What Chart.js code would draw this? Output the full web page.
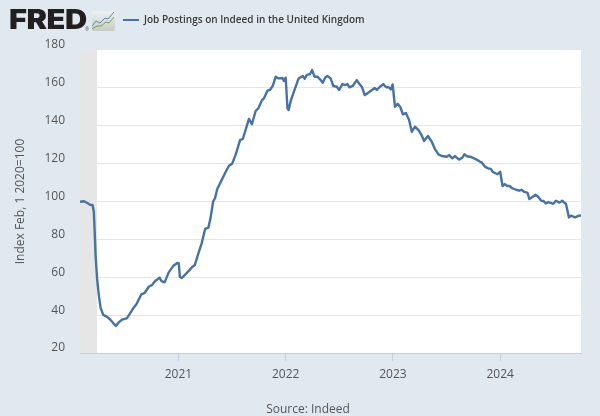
<!DOCTYPE html>
<html><head><meta charset="utf-8">
<script src="https://cdn.jsdelivr.net/npm/chart.js@4/dist/chart.umd.min.js"></script>
<style>
html,body{margin:0;padding:0;background:#e1e9f0;width:600px;height:416px;overflow:hidden}
#wrap{position:relative;width:600px;height:416px}
#logo{position:absolute;left:9px;top:3px;font:900 27px/34px Inter,"Liberation Sans",sans-serif;color:#231f20;letter-spacing:-.4px;transform:scaleX(1.14);transform-origin:left center}
#reg{position:absolute;left:85px;top:26px;font:5px/6px "Open Sans",sans-serif;color:#555}
#icon{position:absolute;left:92px;top:11px}
#source{position:absolute;left:208px;width:200px;top:401px;text-align:center;font:12px/16px "Open Sans",sans-serif;color:#555}
</style></head><body>
<div id="wrap">
<canvas id="c" width="600" height="416"></canvas>
<div id="logo">FRED</div><div id="reg">®</div>
<svg id="icon" width="23" height="20" viewBox="0 0 23 20"><defs><linearGradient id="g" x1="0" y1="0" x2="0" y2="1"><stop offset="0" stop-color="#eef1f1"/><stop offset="1" stop-color="#c6cbc6"/></linearGradient></defs><rect width="23" height="20" rx="2" fill="url(#g)"/><polyline points="0,15 4,10 8,12 13,7 16,8 22,1" fill="none" stroke="#5b87ad" stroke-width="1"/><polyline points="0,18 5,15 9,15 14,11 17,12 22,6" fill="none" stroke="#7ba24a" stroke-width="1"/></svg>
<div id="source">Source: Indeed</div>
</div>
<script>
// Days since 1 Feb 2020
const days = [0,14,25,34,43,47,50,53,58,64,70,79,91,102,113,122,132,143,159,170,181,192,209,220,234,245,256,271,277,288,302,317,331,336,340,346,357,371,382,391,401,414,426,437,444,453,460,467,482,496,507,518,530,545,554,575,585,598,607,619,626,638,647,656,666,675,689,694,700,706,710,718,728,744,758,765,772,783,790,798,808,817,826,835,842,853,862,874,882,893,903,910,917,928,942,951,960,969,978,990,1003,1010,1021,1032,1042,1051,1058,1064,1072,1081,1090,1099,1109,1120,1129,1140,1152,1161,1171,1184,1197,1208,1220,1231,1248,1256,1267,1276,1290,1301,1308,1317,1331,1350,1362,1368,1378,1389,1398,1405,1414,1421,1430,1438,1446,1453,1462,1471,1484,1495,1502,1511,1523,1529,1541,1550,1559,1570,1577,1585,1594,1611,1620,1632,1641,1654,1664,1671,1685,1698,1705];
const postings = [99.9,100.1,99.2,98.3,98.0,94.6,84.0,71.7,59.6,50.6,43.8,40.1,39.2,37.8,35.8,34.3,36.2,37.6,38.3,40.8,43.6,45.7,51.0,51.7,55.0,55.9,58.0,59.8,58.0,57.3,62.6,65.9,67.5,67.4,60.1,59.6,61.2,63.5,65.4,66.5,71.7,77.9,85.5,86.2,91.1,99.9,102.0,106.6,111.3,115.7,118.9,120.0,124.9,132.5,133.0,143.6,140.8,147.9,149.2,153.4,154.5,158.5,159.0,161.1,165.9,165.0,165.2,163.6,165.4,149.2,148.3,153.6,158.0,165.0,166.3,164.8,166.9,167.3,169.4,165.9,165.9,164.5,162.7,165.6,166.3,165.0,161.0,160.6,158.9,162.0,161.5,162.0,160.3,161.0,164.1,162.0,160.3,156.2,157.1,158.5,159.9,158.9,160.6,162.0,160.3,160.3,159.2,161.8,150.0,151.6,149.9,146.0,146.7,143.0,136.8,139.5,137.7,135.5,131.9,134.6,131.6,127.7,124.9,124.0,123.6,124.5,122.8,124.0,122.1,123.1,124.9,123.9,123.5,122.1,121.0,120.5,118.4,117.5,117.2,115.6,114.9,114.4,115.7,108.2,109.2,108.2,108.2,107.0,106.2,105.7,106.2,105.2,104.6,101.3,102.5,103.6,102.5,100.4,100.3,99.0,99.7,98.8,100.4,99.4,100.4,98.7,91.6,92.5,91.6,92.5,92.6];
const recessionDays = [0,58];
const recessionTop = [180,180];
const tickDays = [335,700,1065,1430];
const tickYears = ['2021','2022','2023','2024'];
const seriesName = 'Job Postings on Indeed in the United Kingdom';
const yTitle = 'Index Feb, 1 2020=100';

const textColor = '#555';
const font = {family:'"Open Sans"',size:12};

const chartBg = {
  id:'chartBg',
  beforeDraw(chart){
    const {ctx,chartArea:a}=chart;
    ctx.save();ctx.fillStyle='#fff';ctx.fillRect(a.left,a.top,a.right-a.left,a.bottom-a.top);ctx.restore();
  }
};
const placeLegend = {
  id:'placeLegend',
  afterLayout(chart){
    const l=chart.legend;
    l.left=113;l.right=400;l.width=287;l.top=5;l.bottom=37;l.height=32;
  }
};

new Chart(document.getElementById('c'),{
  type:'line',
  data:{datasets:[
    {label:seriesName,data:days.map((d,i)=>({x:d,y:postings[i]})),borderColor:'#4572a7',backgroundColor:'#4572a7',borderWidth:2.4,pointRadius:0,tension:0,order:0,borderJoinStyle:'round'},
    {label:'Recession',data:recessionDays.map((d,i)=>({x:d,y:recessionTop[i]})),borderWidth:0,borderColor:'transparent',backgroundColor:'#e6e6e6',pointRadius:0,fill:'start',order:1}
  ]},
  options:{
    responsive:false,animation:false,
    layout:{padding:{top:50,right:19,left:0,bottom:0}},
    plugins:{
      tooltip:{enabled:false},
      legend:{position:'chartArea',align:'start',
        labels:{boxWidth:16,boxHeight:2,padding:10,color:'#3a3a3a',
          font:{family:'"Open Sans"',size:10,weight:'600'},
          generateLabels(chart){
            return Chart.defaults.plugins.legend.labels.generateLabels(chart)
              .filter(i=>i.datasetIndex===0).map(i=>Object.assign(i,{lineWidth:0}));
          }}}
    },
    scales:{
      x:{type:'linear',min:0,max:1705,
        afterFit(s){s.height=63},
        afterBuildTicks(s){s.ticks=tickDays.map(value=>({value}))},
        grid:{drawOnChartArea:false,drawTicks:true,tickLength:8,tickColor:'#c0d0e0'},
        border:{color:'#c0d0e0',width:1},
        ticks:{autoSkip:false,maxRotation:0,minRotation:0,padding:6,color:textColor,font,
          callback:v=>tickYears[tickDays.indexOf(v)]}
      },
      y:{min:20,max:180,
        afterFit(s){s.width=80},
        grid:{drawTicks:false,color:c=>c.tick&&c.tick.value===180?'transparent':'#e6e6e6',lineWidth:1},
        border:{display:false},
        title:{display:true,text:yTitle,color:textColor,font,padding:{top:13,bottom:0}},
        ticks:{stepSize:20,padding:15,labelOffset:-5,color:textColor,font}
      }
    }
  },
  plugins:[chartBg,placeLegend]
});
</script>
</body></html>
